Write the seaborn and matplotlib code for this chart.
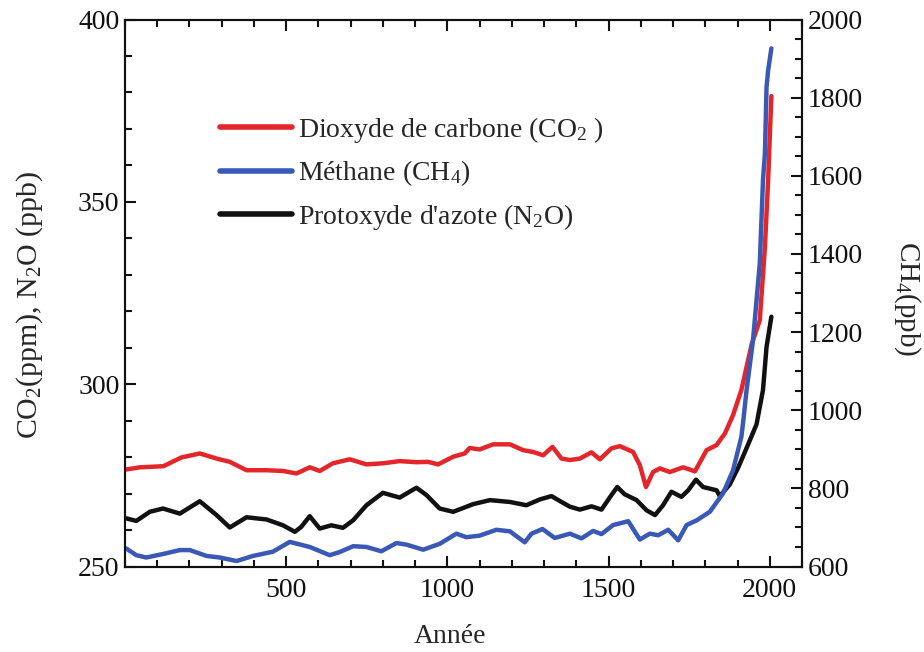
import matplotlib
matplotlib.use("Agg")
import matplotlib.pyplot as plt
from matplotlib.lines import Line2D
from matplotlib.ticker import MultipleLocator
import seaborn as sns
import pandas as pd

# ---------------- data ----------------
co2_years = [4, 46, 119, 175, 232, 284, 325, 377, 439, 490, 532, 573, 604, 645, 697, 749, 800,
             852, 904, 940, 971, 1018, 1054, 1069, 1100, 1142, 1194, 1235, 1266, 1297, 1326,
             1354, 1380, 1411, 1447, 1473, 1509, 1535, 1576, 1597, 1616, 1638, 1659, 1690,
             1731, 1768, 1804, 1835, 1861, 1886, 1912, 1944, 1969, 1985, 1995, 2005]
co2 = [276.6, 277.2, 277.5, 279.9, 281.0, 279.6, 278.7, 276.4, 276.4, 276.2, 275.5, 277.2,
       276.2, 278.3, 279.4, 278.0, 278.3, 278.9, 278.6, 278.7, 278.0, 280.1, 281.0, 282.5,
       282.1, 283.5, 283.5, 281.9, 281.4, 280.5, 282.8, 279.6, 279.2, 279.6, 281.3, 279.4,
       282.4, 283.0, 281.4, 277.8, 271.8, 275.9, 276.9, 275.9, 277.2, 276.1, 281.9, 283.3,
       286.5, 291.5, 298.4, 311.0, 317.5, 337.6, 356.0, 379.0]

ch4_years = [4, 35, 66, 118, 170, 201, 253, 294, 346, 397, 459, 511, 573, 635, 666, 708, 749,
             795, 842, 873, 925, 976, 1028, 1059, 1100, 1152, 1194, 1240, 1261, 1295, 1333,
             1380, 1416, 1452, 1478, 1514, 1561, 1597, 1628, 1654, 1685, 1716, 1742, 1773,
             1814, 1855, 1886, 1912, 1918, 1928, 1948, 1969, 1979, 1985, 1990, 1995, 2005]
ch4 = [646, 629, 623, 632, 642, 642, 627, 623, 614, 627, 638, 663, 650, 629, 637, 652, 650,
       639, 660, 656, 643, 658, 684, 675, 679, 694, 690, 662, 684, 696, 673, 684, 672, 691,
       683, 706, 716, 669, 684, 680, 694, 667, 706, 718, 740, 787, 846, 932, 974, 1051,
       1179, 1375, 1589, 1658, 1827, 1870, 1926]

n2o_years = [4, 35, 77, 118, 170, 232, 284, 325, 377, 439, 490, 527, 547, 573, 604, 640, 676,
             708, 749, 800, 852, 904, 935, 976, 1018, 1080, 1132, 1194, 1245, 1287, 1323,
             1354, 1380, 1411, 1447, 1478, 1509, 1527, 1550, 1587, 1618, 1644, 1669, 1695,
             1726, 1747, 1771, 1793, 1835, 1845, 1876, 1902, 1933, 1959, 1979, 1990, 2005]
n2o = [263.2, 262.5, 265.0, 265.9, 264.5, 267.9, 264.1, 260.7, 263.5, 262.9, 261.3, 259.5,
       260.9, 263.8, 260.4, 261.3, 260.6, 262.7, 266.8, 270.2, 268.9, 271.6, 269.6, 265.9,
       265.0, 267.1, 268.2, 267.7, 266.8, 268.4, 269.3, 267.7, 266.4, 265.6, 266.5, 265.6,
       269.6, 271.8, 269.8, 268.2, 265.4, 264.1, 266.8, 270.5, 269.1, 270.9, 273.8, 271.8,
       270.9, 269.3, 272.5, 277.1, 283.5, 289.0, 298.4, 310.2, 318.5]

labels = ["Dioxyde de carbone (CO$\\mathregular{_2}$ )",
          "Méthane (CH$\\mathregular{_4}$)",
          "Protoxyde d'azote (N$\\mathregular{_2}$O)"]
x_ticks = [500, 1000, 1500, 2000]
left_ticks = [250, 300, 350, 400]
right_ticks = [600, 800, 1000, 1200, 1400, 1600, 1800, 2000]

c_red = "#e4262b"
c_blue = "#3a58b5"
c_black = "#111111"

# ---------------- style ----------------
sns.set_theme(style="white")
plt.rcParams["font.family"] = ["Liberation Serif", "DejaVu Serif"]
plt.rcParams["mathtext.fontset"] = "custom"
plt.rcParams["mathtext.rm"] = "Liberation Serif"
plt.rcParams["mathtext.it"] = "Liberation Serif:italic"
plt.rcParams["mathtext.bf"] = "Liberation Serif:bold"
plt.rcParams["lines.solid_joinstyle"] = "round"
plt.rcParams["lines.solid_capstyle"] = "round"

fig = plt.figure(figsize=(9.24, 6.52), dpi=100)
fig.patch.set_facecolor("white")
ax = fig.add_axes([125 / 924, 1 - 566.5 / 652, 677 / 924, 547 / 652])
ax2 = ax.twinx()

df_co2 = pd.DataFrame({"year": co2_years, "val": co2})
df_ch4 = pd.DataFrame({"year": ch4_years, "val": ch4})
df_n2o = pd.DataFrame({"year": n2o_years, "val": n2o})

lw = 3.2
sns.lineplot(data=df_co2, x="year", y="val", ax=ax, color=c_red, lw=lw, sort=False,
             estimator=None, zorder=3)
sns.lineplot(data=df_n2o, x="year", y="val", ax=ax, color=c_black, lw=lw, sort=False,
             estimator=None, zorder=3)
sns.lineplot(data=df_ch4, x="year", y="val", ax=ax2, color=c_blue, lw=lw, sort=False,
             estimator=None, zorder=2)

ax.set_xlim(0, 2100)
ax.set_ylim(250, 400)
ax2.set_ylim(600, 2000)

ax.set_xticks(x_ticks)
ax.set_xticklabels([str(t) for t in x_ticks])
ax.xaxis.set_minor_locator(MultipleLocator(100))
ax.set_yticks(left_ticks)
ax.set_yticklabels([str(t) for t in left_ticks])
ax.yaxis.set_minor_locator(MultipleLocator(10))
ax2.set_yticks(right_ticks)
ax2.set_yticklabels([str(t) for t in right_ticks])
ax2.yaxis.set_minor_locator(MultipleLocator(50))

fs = 20
ax.tick_params(axis="x", which="both", direction="in", top=True, bottom=True,
               labelsize=fs, pad=8, colors="#111111")
ax.tick_params(axis="y", which="both", direction="in", left=True, right=False,
               labelsize=fs, pad=4, colors="#111111")
ax.tick_params(which="major", length=8, width=1.5)
ax.tick_params(which="minor", length=5, width=1.5)
ax2.tick_params(axis="y", which="both", direction="in", right=True, left=False,
                labelsize=fs, pad=4, colors="#111111")
ax2.tick_params(which="major", length=8, width=1.5)
ax2.tick_params(which="minor", length=5, width=1.5)

for a in (ax, ax2):
    for s in a.spines.values():
        s.set_visible(True)
        s.set_color("#111111")
        s.set_linewidth(1.5)

ax.set_xlabel("Année", fontsize=20, labelpad=10)
ax.xaxis.set_label_coords(0.48, -0.105)
ax.set_ylabel("CO$\\mathregular{_2}$(ppm), N$\\mathregular{_2}$O (ppb)", fontsize=21.5)
ax.yaxis.set_label_coords(-0.118, 0.478)
ax2.set_ylabel("CH$\\mathregular{_4}$(ppb)", fontsize=21, rotation=270)
ax2.yaxis.set_label_coords(1.178, 0.49)

handles = [Line2D([0], [0], color=c_red, lw=4),
           Line2D([0], [0], color=c_blue, lw=4),
           Line2D([0], [0], color=c_black, lw=4)]
ax.legend(handles, labels, loc="upper left", bbox_to_anchor=(0.14, 0.826),
          frameon=False, fontsize=20, handlelength=2.6, handletextpad=0.2,
          labelspacing=0.5, borderpad=0, borderaxespad=0)

fig.savefig("out.png", dpi=100, facecolor="white")
